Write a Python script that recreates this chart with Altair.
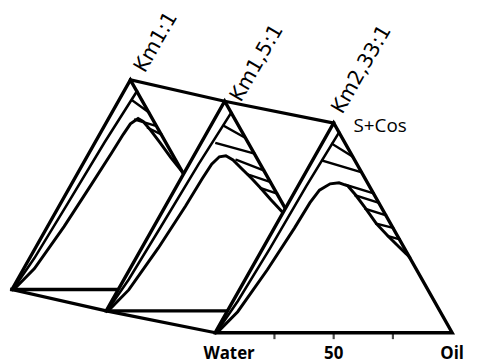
import altair as alt
import pandas as pd

# ---------------- data (compositions in %) ----------------
faces = ["Km1:1", "Km1,5:1", "Km2,33:1"]
# oblique (depth) offset of each section in the prism drawing, in plot units
face_dx = [-85.8, -46.0, 0.0]
face_dy = [20.6, 10.4, 0.0]

# narrow boundary near the Water / S+Cos side: surfactant %, oil %
inner_s = [[1, 15, 40, 70, 94.5], [1, 15, 40, 70, 94.5], [1, 15, 40, 70, 95.5]]
inner_o = [[0.5, 2.0, 3.0, 4.0, 5.5], [0.5, 2.0, 3.0, 4.0, 5.5], [0.5, 2.0, 3.0, 3.5, 4.5]]

# binodal (dome): surfactant %, oil %
dome_s = [
    [0.5, 10, 30, 50, 65, 74, 79, 81.5, 80, 76, 70, 63, 56],
    [0.5, 10, 30, 50, 63, 70, 73.5, 74, 72, 68, 63, 58.5, 53, 48.5, 42],
    [0.5, 10, 30, 50, 62, 68, 71, 71.5, 70, 66, 60, 52, 46, 41, 37.5, 36],
]
dome_o = [
    [1, 4.5, 7, 8.5, 9.5, 10, 10.5, 12.5, 15.5, 20.5, 27.5, 35.5, 44],
    [1, 4.5, 7, 8.5, 9, 9.5, 11, 13.5, 17.5, 23, 30, 36, 43, 49, 57.5],
    [1, 4.5, 7, 8.5, 9, 10, 13, 16.5, 21, 26, 33, 42, 50, 57, 62, 64],
]

# tie lines: (surfactant %, oil %) at both ends
tie_s1 = [[90, 81, 77], [88, 80, 72, 65, 58.5], [90, 82, 70.5, 65.5, 59, 52, 46]]
tie_o1 = [[6, 11.5, 19], [6, 6.5, 19, 27.5, 36], [4.4, 4.3, 20, 26.5, 34, 42, 50]]
tie_s2 = [[84.5, 78, 74], [82.5, 75, 67, 61.5, 56], [84, 76.5, 66.5, 62, 56, 50, 44.5]]
tie_o2 = [[15.5, 22, 26], [17.5, 25, 33, 38.5, 44], [16, 23.5, 33.5, 38, 44, 50, 55.5]]

tick_oil = [25, 50, 75]
axis_text = ["Water", "50", "Oil"]
axis_oil = [0, 50, 100]

# ---------------- plot frame ----------------
W, H = 465, 356
XDOM = [-87.45, 107.11]
YDOM = [-14.2, 154.12]
FONT = "Open Sans"
X = alt.X("x:Q", scale=alt.Scale(domain=XDOM, nice=False, zero=False), axis=None)
Y = alt.Y("y:Q", scale=alt.Scale(domain=YDOM, nice=False, zero=False), axis=None)
SW = {"edge": 3.4, "inner": 2.6, "dome": 3.0, "tie": 2.4, "prism": 3.2}


def proj(f, s, o):
    return o + s / 2 + face_dx[f], s + face_dy[f]


rows = []


def add(f, pid, kind, ss, oo):
    for k, (s, o) in enumerate(zip(ss, oo)):
        x, y = proj(f, s, o)
        rows.append(dict(face=f, pid=pid, k=k, kind=kind, sw=SW[kind], x=x, y=y))


# prism edges through the apexes and through the water corners
for f in range(3):
    x, y = proj(f, 100, 0)
    rows.append(dict(face=-1, pid="apexline", k=f, kind="prism", sw=SW["prism"], x=x, y=y))
    x, y = proj(f, 0, 0)
    rows.append(dict(face=-1, pid="waterline", k=f, kind="prism", sw=SW["prism"], x=x, y=y))

for f in range(3):
    add(f, f"{f}-outline", "edge", [0, 100, 0, 0], [0, 0, 100, 0])
    add(f, f"{f}-inner", "inner", inner_s[f], inner_o[f])
    add(f, f"{f}-dome", "dome", dome_s[f], dome_o[f])
    for j in range(len(tie_s1[f])):
        add(f, f"{f}-tie{j}", "tie", [tie_s1[f][j], tie_s2[f][j]], [tie_o1[f][j], tie_o2[f][j]])

lines = pd.DataFrame(rows)

fill_rows = []
for f in range(3):
    for s, o in [(0, 0), (100, 0), (0, 100)]:
        x, y = proj(f, s, o)
        fill_rows.append(dict(face=f, x=x, y=y, y2=face_dy[f]))
fills = pd.DataFrame(fill_rows)


def line_layer(df):
    return alt.Chart(df).mark_line(color="black", strokeJoin="miter", strokeCap="square").encode(
        X, Y, detail="pid:N", order="k:Q", strokeWidth=alt.StrokeWidth("sw:Q", scale=None)
    )


layers = [line_layer(lines[lines.face == -1])]
for f in range(3):
    layers.append(
        alt.Chart(fills[fills.face == f]).mark_area(color="white", opacity=1).encode(X, Y, y2="y2:Q")
    )
    layers.append(line_layer(lines[lines.face == f]))

# ticks on the front (S+Cos) section base
ticks = pd.DataFrame([dict(x=proj(2, 0, o)[0], y=proj(2, 0, o)[1]) for o in tick_oil])
layers.append(
    alt.Chart(ticks).mark_tick(orient="vertical", size=7, thickness=2.2, color="black", yOffset=3).encode(X, Y)
)

# axis labels
lab = pd.DataFrame([dict(x=proj(2, 0, o)[0], y=proj(2, 0, o)[1], t=t) for o, t in zip(axis_oil, axis_text)])
layers.append(
    alt.Chart(lab[lab.t == "Water"]).mark_text(
        font=FONT, fontSize=17, fontWeight="bold", baseline="alphabetic", dx=14, dy=27
    ).encode(X, Y, text="t:N")
)
layers.append(
    alt.Chart(lab[lab.t != "Water"]).mark_text(
        font=FONT, fontSize=17, fontWeight="bold", baseline="alphabetic", dx=0, dy=27
    ).encode(X, Y, text="t:N")
)

# section labels (dx along the rotated baseline, dy across it)
offs = [(12.5, 9.5), (6.6, 15), (11.3, 3.5)]
for f in range(3):
    x, y = proj(f, 100, 0)
    d = pd.DataFrame([dict(x=x, y=y, t=faces[f])])
    layers.append(
        alt.Chart(d).mark_text(
            font="DejaVu Sans", fontSize=20.5, angle=300, align="left", baseline="alphabetic",
            dx=offs[f][0], dy=offs[f][1]
        ).encode(X, Y, text="t:N")
    )
x, y = proj(2, 100, 0)
layers.append(
    alt.Chart(pd.DataFrame([dict(x=x, y=y, t="S+Cos")])).mark_text(
        font=FONT, fontSize=19, align="left", baseline="alphabetic", dx=20, dy=9
    ).encode(X, Y, text="t:N")
)

chart = (
    alt.layer(*layers)
    .properties(width=W, height=H, padding=0, autosize=alt.AutoSizeParams(type="none"))
    .configure_view(stroke=None)
)
chart.save("out.html", embed_options={"renderer": "svg", "actions": False})
